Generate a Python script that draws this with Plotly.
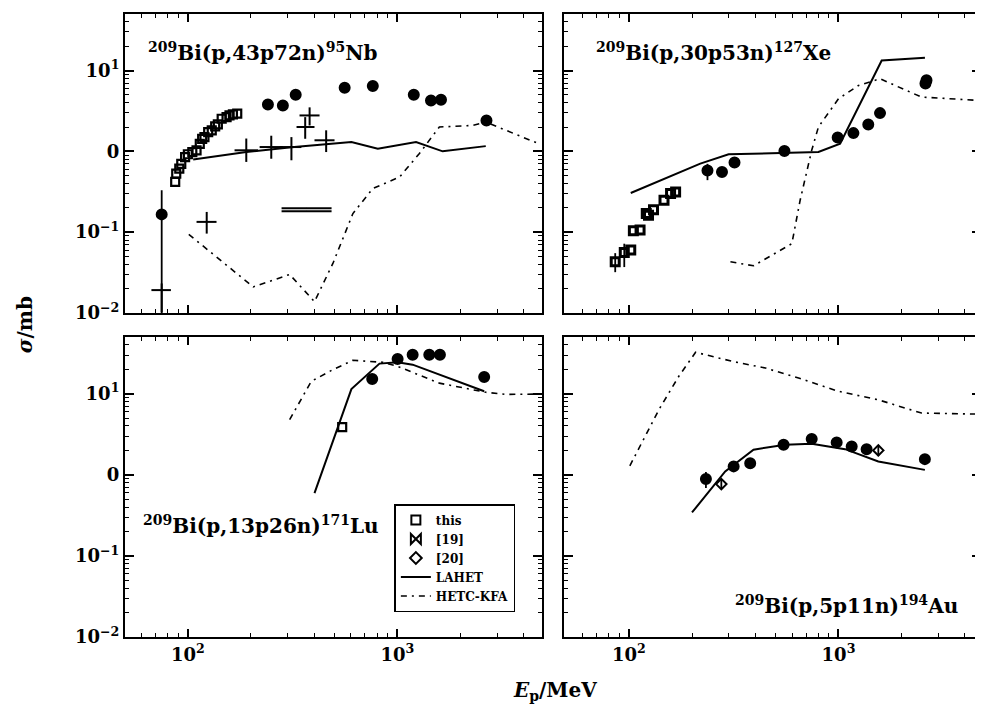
import plotly.graph_objects as go

# ---------------- data ----------------
# Panel 1: 209Bi(p,43p72n)95Nb
nb_this_x = [87, 88, 91, 93, 97, 100, 105, 110, 114, 117, 120, 125, 130, 135, 139, 145, 153, 158, 164, 172]
nb_this_y = [0.42, 0.53, 0.61, 0.70, 0.85, 0.92, 0.98, 1.03, 1.24, 1.43, 1.50, 1.73, 1.82, 2.04, 2.15, 2.53, 2.65, 2.78, 2.86, 2.92]
nb_fill_x = [75, 241, 284, 327, 560, 763, 1197, 1446, 1614, 2660]
nb_fill_y = [0.166, 3.80, 3.70, 5.0, 6.11, 6.41, 5.0, 4.26, 4.35, 2.41]
nb_fill_ep = [0.164, 0.4, 0, 0, 0, 0, 0, 0, 0, 0]
nb_fill_em = [0.161, 0.4, 0, 0, 0, 0, 0, 0, 0, 0]
nb_cross_x = [75, 123, 190, 250, 312, 363, 381, 457]
nb_cross_y = [0.0192, 0.134, 1.03, 1.13, 1.13, 2.0, 2.78, 1.37]
nb_cross_xp = [8, 14, 26, 34, 36, 39, 44, 44]
nb_cross_xm = [8, 13, 23, 30, 38, 33, 40, 55]
nb_cross_yp = [0.004, 0.044, 0.41, 0.43, 0.37, 0.65, 0.72, 0.45]
nb_cross_ym = [0.009, 0.038, 0.29, 0.32, 0.355, 0.57, 0.69, 0.39]
nb_mark_x = [369, 369]
nb_mark_y = [0.198, 0.181]
nb_mark_xp = [116, 116]
nb_mark_xm = [89, 89]
nb_lahet_x = [106, 190, 312, 492, 603, 806, 1227, 1644, 2640]
nb_lahet_y = [0.79, 0.98, 1.12, 1.24, 1.30, 1.08, 1.30, 1.0, 1.16]
nb_hetc_x = [101, 205, 306, 402, 492, 613, 763, 1023, 1273, 1585, 2285, 2640, 4740]
nb_hetc_y = [0.094, 0.021, 0.030, 0.0138, 0.041, 0.17, 0.347, 0.48, 0.94, 2.0, 2.09, 2.30, 1.24]

# Panel 2: 209Bi(p,30p53n)127Xe
xe_this_x = [86, 95, 102, 105, 113, 121, 124, 131, 147, 158, 167]
xe_this_y = [0.043, 0.056, 0.060, 0.104, 0.106, 0.17, 0.162, 0.19, 0.248, 0.30, 0.315]
xe_this_ep = [0.012, 0.016, 0, 0, 0, 0, 0, 0, 0, 0, 0]
xe_this_em = [0.011, 0.019, 0, 0, 0, 0, 0, 0, 0, 0, 0]
xe_fill_x = [237, 278, 319, 552, 991, 1178, 1387, 1578, 2600, 2630]
xe_fill_y = [0.58, 0.555, 0.726, 1.01, 1.48, 1.68, 2.15, 2.97, 6.9, 7.6]
xe_fill_ep = [0.12, 0, 0, 0, 0, 0, 0, 0, 0, 0]
xe_fill_em = [0.14, 0, 0, 0, 0, 0, 0, 0, 0, 0]
xe_lahet_x = [102, 219, 299, 802, 1018, 1607, 2585]
xe_lahet_y = [0.305, 0.705, 0.918, 0.98, 1.24, 13.3, 14.4]
xe_hetc_x = [305, 393, 599, 656, 745, 802, 1000, 1245, 1578, 2488, 4640]
xe_hetc_y = [0.043, 0.0384, 0.072, 0.248, 1.03, 2.0, 4.47, 6.53, 7.9, 4.69, 4.27]

# Panel 3: 209Bi(p,13p26n)171Lu
lu_this_x = [545]
lu_this_y = [3.88]
lu_fill_x = [758, 1002, 1182, 1419, 1595, 2594]
lu_fill_y = [15.2, 26.8, 30.3, 30.3, 30.3, 16.1]
lu_lahet_x = [402, 603, 821, 1002, 1182, 2594]
lu_lahet_y = [0.594, 11.4, 23.5, 24.4, 22.8, 10.7]
lu_hetc_x = [306, 388, 492, 613, 851, 1002, 1585, 2640, 3300, 4800]
lu_hetc_y = [4.78, 14.2, 19.8, 25.8, 24.4, 21.7, 13.5, 10.4, 9.8, 9.9]

# Panel 4: 209Bi(p,5p11n)194Au
au_fill_x = [233, 316, 379, 547, 745, 980, 1156, 1362, 2583]
au_fill_y = [0.885, 1.27, 1.39, 2.35, 2.76, 2.51, 2.24, 2.07, 1.56]
au_fill_e = [0.2, 0, 0, 0, 0, 0, 0.3, 0, 0]
au_r20_x = [276, 1549]
au_r20_y = [0.768, 2.0]
au_r20_e = [0.1, 0.3]
au_lahet_x = [200, 288, 393, 557, 745, 1075, 1549, 2583]
au_lahet_y = [0.343, 1.10, 2.04, 2.35, 2.41, 2.07, 1.46, 1.15]
au_hetc_x = [101, 139, 173, 208, 310, 448, 645, 1000, 1549, 2490, 4640]
au_hetc_y = [1.29, 6.35, 16.4, 32.4, 25.1, 20.7, 15.6, 10.7, 8.4, 5.77, 5.6]

titles = ["<sup>209</sup>Bi(p,43p72n)<sup>95</sup>Nb",
          "<sup>209</sup>Bi(p,30p53n)<sup>127</sup>Xe",
          "<sup>209</sup>Bi(p,13p26n)<sup>171</sup>Lu",
          "<sup>209</sup>Bi(p,5p11n)<sup>194</sup>Au"]
x_tickvals = [100, 1000]
x_ticktext = ["10<sup>2</sup>", "10<sup>3</sup>"]
y_tickvals = [0.01, 0.1, 1, 10]
y_ticktext = ["10<sup>−2</sup>", "10<sup>−1</sup>", "0", "10<sup>1</sup>"]
legend_names = ["this", "[19]", "[20]", "LAHET", "HETC-KFA"]

# ---------------- style ----------------
SERIF = "DejaVu Serif"
BLK = "black"
HETC_DASH = "6px,5px,2px,5px"

fig = go.Figure()


def ax_refs(i):
    return ("x" if i == 1 else f"x{i}"), ("y" if i == 1 else f"y{i}")


def add_line(i, x, y, dash):
    xa, ya = ax_refs(i)
    fig.add_trace(go.Scatter(x=x, y=y, mode="lines", xaxis=xa, yaxis=ya,
                             line=dict(color=BLK, width=2 if dash == "solid" else 1.6, dash=dash),
                             showlegend=False, hoverinfo="skip"))


def add_pts(i, x, y, symbol, size, ep=None, em=None, lw=2):
    xa, ya = ax_refs(i)
    err = None
    if ep is not None:
        err = dict(type="data", array=ep, arrayminus=em if em is not None else ep,
                   color=BLK, thickness=1.8, width=0)
    fig.add_trace(go.Scatter(x=x, y=y, mode="markers", xaxis=xa, yaxis=ya,
                             marker=dict(symbol=symbol, size=size, color=BLK,
                                         line=dict(color=BLK, width=lw)),
                             error_y=err, showlegend=False, hoverinfo="skip"))


def add_cross(i, x, y, xp, xm, yp=None, ym=None):
    xa, ya = ax_refs(i)
    ey = None
    if yp is not None:
        ey = dict(type="data", array=yp, arrayminus=ym, color=BLK, thickness=2, width=0)
    fig.add_trace(go.Scatter(x=x, y=y, mode="markers", xaxis=xa, yaxis=ya,
                             marker=dict(size=1, color=BLK),
                             error_x=dict(type="data", array=xp, arrayminus=xm,
                                          color=BLK, thickness=2, width=0),
                             error_y=ey, showlegend=False, hoverinfo="skip"))


# Panel 1
add_line(1, nb_hetc_x, nb_hetc_y, HETC_DASH)
add_line(1, nb_lahet_x, nb_lahet_y, "solid")
add_cross(1, nb_cross_x, nb_cross_y, nb_cross_xp, nb_cross_xm, nb_cross_yp, nb_cross_ym)
add_cross(1, nb_mark_x, nb_mark_y, nb_mark_xp, nb_mark_xm)
add_pts(1, nb_this_x, nb_this_y, "square-open", 8, lw=2.2)
add_pts(1, nb_fill_x, nb_fill_y, "circle", 10, nb_fill_ep, nb_fill_em)

# Panel 2
add_line(2, xe_hetc_x, xe_hetc_y, HETC_DASH)
add_line(2, xe_lahet_x, xe_lahet_y, "solid")
add_pts(2, xe_this_x, xe_this_y, "square-open", 8, xe_this_ep, xe_this_em, lw=3)
add_pts(2, xe_fill_x, xe_fill_y, "circle", 10, xe_fill_ep, xe_fill_em)

# Panel 3
add_line(3, lu_hetc_x, lu_hetc_y, HETC_DASH)
add_line(3, lu_lahet_x, lu_lahet_y, "solid")
add_pts(3, lu_this_x, lu_this_y, "square-open", 8, lw=2.2)
add_pts(3, lu_fill_x, lu_fill_y, "circle", 10)

# Panel 4
add_line(4, au_hetc_x, au_hetc_y, HETC_DASH)
add_line(4, au_lahet_x, au_lahet_y, "solid")
add_pts(4, au_fill_x, au_fill_y, "circle", 10, au_fill_e, au_fill_e)
add_pts(4, au_r20_x, au_r20_y, "diamond-open", 8, au_r20_e, au_r20_e, lw=2)

# legend proxies
leg_styles = [
    dict(mode="markers", marker=dict(symbol="square-open", size=9, color=BLK, line=dict(width=2, color=BLK))),
    dict(mode="markers", marker=dict(symbol="bowtie-open", size=10, color=BLK, line=dict(width=2, color=BLK))),
    dict(mode="markers", marker=dict(symbol="diamond-open", size=9, color=BLK, line=dict(width=2, color=BLK))),
    dict(mode="lines", line=dict(color=BLK, width=1.8)),
    dict(mode="lines", line=dict(color=BLK, width=1.6, dash=HETC_DASH)),
]
for name, st in zip(legend_names, leg_styles):
    fig.add_trace(go.Scatter(x=[None], y=[None], xaxis="x3", yaxis="y3", name=name,
                             showlegend=True, **st))

# ---------------- axes ----------------
# page body adds an 8px margin, so the figure is 8px smaller than the window
W, H = 975, 700
ML, MR, MT, MB = 117, 0, 6, 71
PW, PH = W - ML - MR, H - MT - MB
xdom_l = [0, 418 / PW]
xdom_r = [440 / PW, 1.0]
ydom_t = [(637 - 313) / PH, 1.0]
ydom_b = [0, (637 - 337) / PH]

minor_x = [60, 70, 80, 90, 200, 300, 400, 500, 600, 700, 800, 900, 2000, 3000, 4000]
minor_y = [0.02, 0.03, 0.04, 0.05, 0.06, 0.07, 0.08, 0.09,
           0.2, 0.3, 0.4, 0.5, 0.6, 0.7, 0.8, 0.9,
           2, 3, 4, 5, 6, 7, 8, 9, 20, 30, 40]
tickfont = dict(family=SERIF, size=18, color=BLK, weight="bold")


def xaxis(domain, rng, anchor, labels):
    return dict(type="log", domain=domain, range=rng, anchor=anchor,
                showline=True, linewidth=2, linecolor=BLK, mirror="allticks",
                ticks="inside", ticklen=8, tickwidth=1.6, tickcolor=BLK,
                tickmode="array", tickvals=x_tickvals, ticktext=x_ticktext,
                showticklabels=labels, tickfont=tickfont,
                showgrid=False, zeroline=False,
                minor=dict(tickmode="array", tickvals=minor_x, ticks="inside",
                           ticklen=4, tickwidth=1.3, tickcolor=BLK, showgrid=False))


def yaxis(domain, anchor, labels):
    return dict(type="log", domain=domain, range=[-2, 1.699], anchor=anchor,
                showline=True, linewidth=2, linecolor=BLK, mirror="allticks",
                ticks="inside", ticklen=9, tickwidth=1.6, tickcolor=BLK,
                tickmode="array", tickvals=y_tickvals, ticktext=y_ticktext,
                showticklabels=labels, tickfont=tickfont,
                showgrid=False, zeroline=False,
                minor=dict(tickmode="array", tickvals=minor_y, ticks="inside",
                           ticklen=4, tickwidth=1.3, tickcolor=BLK, showgrid=False))


fig.update_layout(
    width=W, height=H,
    margin=dict(l=ML, r=MR, t=MT, b=MB, pad=0),
    paper_bgcolor="white", plot_bgcolor="white",
    font=dict(family=SERIF, color=BLK),
    xaxis=xaxis(xdom_l, [1.70, 3.69], "y", False),
    yaxis=yaxis(ydom_t, "x", True),
    xaxis2=xaxis(xdom_r, [1.69, 3.68], "y2", False),
    yaxis2=yaxis(ydom_t, "x2", False),
    xaxis3=xaxis(xdom_l, [1.70, 3.69], "y3", True),
    yaxis3=yaxis(ydom_b, "x3", True),
    xaxis4=xaxis(xdom_r, [1.69, 3.68], "y4", True),
    yaxis4=yaxis(ydom_b, "x4", False),
    legend=dict(x=(395 - 125) / PW, y=(637 - 504) / PH, xanchor="left", yanchor="top",
                bordercolor=BLK, borderwidth=1.5, bgcolor="white",
                font=dict(family=SERIF, size=12, color=BLK, weight="bold"),
                tracegroupgap=0, itemwidth=30),
    showlegend=True,
)

title_pos = [(1, 0.05, 0.873), (2, 0.072, 0.873), (3, 0.038, 0.373), (4, 0.406, 0.107)]
for (i, tx, ty), t in zip(title_pos, titles):
    xa, ya = ax_refs(i)
    fig.add_annotation(text=t, xref=f"{xa} domain", yref=f"{ya} domain", x=tx, y=ty,
                       xanchor="left", yanchor="middle", showarrow=False,
                       font=dict(family=SERIF, size=20, color=BLK, weight="bold"))

fig.add_annotation(text="<i>σ</i>/mb", xref="paper", yref="paper",
                   x=(25 - 125) / PW, y=(637 - 325) / PH, textangle=-90,
                   xanchor="center", yanchor="middle", showarrow=False,
                   font=dict(family=SERIF, size=20, color=BLK, weight="bold"))
fig.add_annotation(text="<i>E</i><sub>p</sub>/MeV", xref="paper", yref="paper",
                   x=(556 - 125) / PW, y=(637 - 691) / PH,
                   xanchor="center", yanchor="middle", showarrow=False,
                   font=dict(family=SERIF, size=20, color=BLK, weight="bold"))

fig.write_html("out.html")
